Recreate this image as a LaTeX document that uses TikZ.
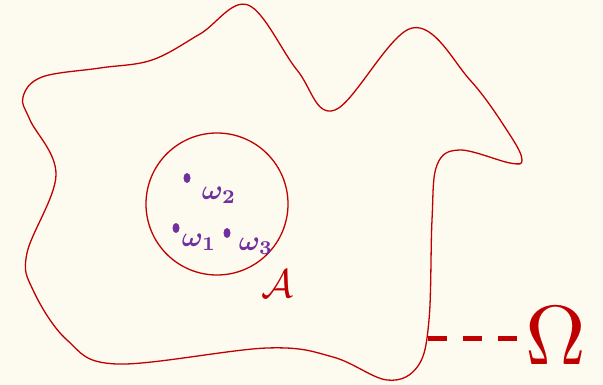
\documentclass[tikz,border=0pt]{standalone}
\usepackage{amsmath,amssymb}
\usepackage{tikz}
\usetikzlibrary{positioning,calc,shapes.geometric}
\definecolor{rojo}{HTML}{C00000}
\definecolor{morado}{HTML}{7030A0}
\definecolor{crema}{HTML}{FDFAF0}
\tikzset{
  borde/.style={draw=rojo,line width=1.3pt},
  punto/.style={fill=morado,ellipse,inner sep=0pt,minimum width=7pt,minimum height=10pt},
  omega/.style={text=morado,inner sep=0pt,scale=2.8},
  guion/.style={draw=rojo,line width=5pt,dash pattern=on 19pt off 16pt}
}
\begin{document}
\begin{tikzpicture}[x=1pt,y=-1pt]
\fill[crema] (0,0) rectangle (603,385);
\useasboundingbox (0,0) rectangle (603,385);
% espacio muestral
\draw[borde] plot[smooth cycle,tension=0.6] coordinates {
  (23,97) (42,77) (100,68) (152,60) (200,34) (248,5) (297,70) (335,110)
  (412,28) (470,80) (510,135) (522,160) (510,163) (460,150) (437,165)
  (432,220) (429,320) (418,366) (387,380) (333,357) (267,348) (117,364)
  (67,340) (33,290) (27,253) (56,175) (30,120)};
% suceso A
\node[borde,circle,minimum size=142pt,inner sep=0pt] (A) at (217,204) {};
\node[text=rojo,inner sep=0pt,scale=4] (lA) at (277,284) {$\mathcal{A}$};
% resultados
\node[punto] (p2) at (187,178) {};
\node[omega] (w2) at (219,195) {$\boldsymbol{\omega_2}$};
\node[punto] (p1) at (176,228) {};
\node[omega] (w1) at (199,242) {$\boldsymbol{\omega_1}$};
\node[punto] (p3) at (227,233) {};
\node[omega] (w3) at (256,246) {$\boldsymbol{\omega_3}$};
% etiqueta Omega
\node[text=rojo,inner sep=0pt,scale=8.4] (Om) at (556,336) {$\Omega$};
\coordinate (c) at (428,338);
\draw[guion] (c) -- (c -| Om.west);
\end{tikzpicture}
\end{document}
